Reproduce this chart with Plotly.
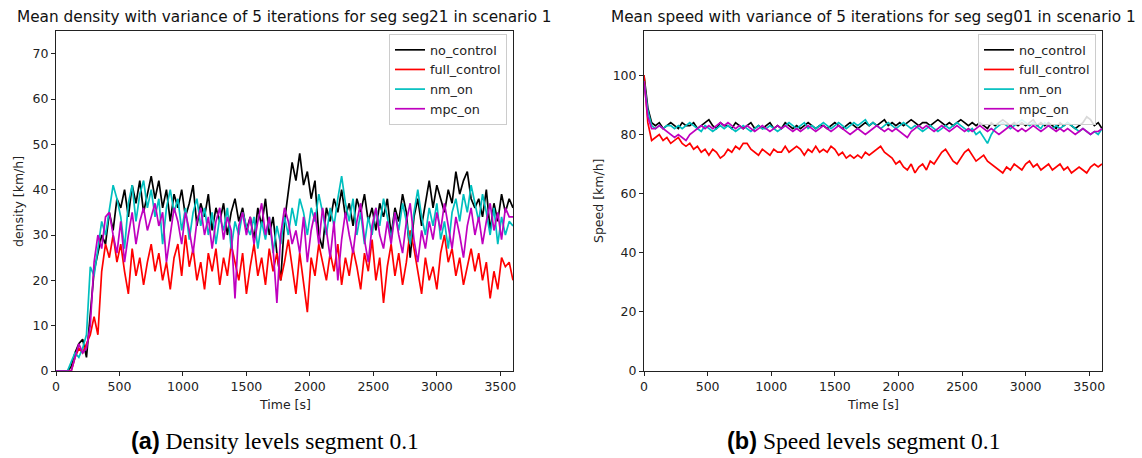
import numpy as np
import plotly.graph_objects as go

# ---------------- data ----------------
time_s = list(range(0, 3601, 30))

density_no_control = [
    0, 0, 0, 0, 1, 4, 6, 7, 3, 12,
    22, 26, 30, 28, 35, 31, 38, 36, 40, 34,
    41, 37, 42, 35, 39, 43, 38, 42, 36, 40,
    33, 39, 36, 40, 34, 37, 41, 32, 37, 34,
    39, 31, 36, 33, 37, 30, 35, 38, 33, 36,
    31, 34, 29, 36, 32, 38, 30, 34, 26, 20,
    33, 39, 46, 42, 48, 41, 44, 38, 42, 30,
    27, 36, 33, 38, 35, 40, 34, 37, 32, 38,
    35, 39, 33, 36, 31, 37, 34, 38, 30, 36,
    33, 39, 35, 25, 34, 38, 32, 37, 42, 36,
    41, 38, 35, 40, 37, 44, 39, 42, 44, 38,
    36, 38, 34, 40, 31, 37, 33, 39, 35, 38,
    36]
density_full_control = [
    0, 0, 0, 0, 0, 3, 5, 4, 6, 8,
    12, 8, 22, 28, 25, 30, 24, 28, 22, 17,
    27, 21, 25, 19, 24, 28, 22, 26, 20, 24,
    18, 25, 28, 21, 30, 23, 27, 20, 24, 18,
    26, 22, 27, 19, 25, 21, 28, 24, 20, 26,
    17, 23, 28, 21, 25, 19, 27, 22, 26, 20,
    24, 29, 23, 17, 26, 20, 13, 25, 21, 28,
    24, 20, 26, 22, 28, 19, 25, 21, 27, 23,
    18, 26, 22, 29, 20, 25, 15, 23, 28, 21,
    26, 19, 24, 31, 27, 22, 17, 25, 20, 23,
    18, 26, 30, 24, 27, 21, 25, 19, 23, 27,
    22, 26, 20, 24, 16, 22, 18, 25, 23, 24,
    20]
density_nm_on = [
    0, 0, 0, 0, 2, 4, 3, 5, 8, 23,
    21, 27, 33, 30, 36, 41, 38, 34, 27, 37,
    41, 33, 39, 42, 36, 40, 34, 38, 28, 36,
    40, 35, 38, 31, 36, 29, 35, 38, 32, 36,
    30, 35, 28, 34, 31, 36, 27, 33, 30, 35,
    32, 30, 34, 27, 33, 29, 34, 26, 32, 28,
    34, 30, 36, 32, 38, 35, 30, 36, 33, 39,
    35, 30, 36, 32, 38, 43, 37, 33, 38, 30,
    35, 28, 34, 30, 36, 32, 38, 34, 29, 35,
    31, 37, 33, 28, 35, 40, 34, 30, 36, 32,
    37, 29, 33, 27, 35, 38, 33, 39, 35, 41,
    37, 33, 39, 35, 30, 36, 28, 34, 30, 33,
    32]
density_mpc_on = [
    0, 0, 0, 0, 0, 3, 6, 4, 5, 10,
    24, 30, 27, 34, 35, 30, 26, 33, 24, 30,
    35, 28, 33, 36, 31, 34, 37, 32, 35, 24,
    30, 36, 33, 28, 35, 31, 26, 33, 36, 30,
    34, 27, 33, 36, 29, 34, 31, 16, 32, 35,
    30, 34, 28, 33, 37, 30, 34, 27, 15, 30,
    36, 33, 28, 31, 26, 34, 24, 31, 35, 28,
    36, 31, 25, 33, 20, 29, 35, 30, 26, 33,
    37, 29, 24, 32, 36, 30, 27, 33, 28, 35,
    30, 26, 33, 37, 29, 24, 31, 27, 33, 29,
    35, 31, 37, 32, 27, 34, 30, 25, 32, 36,
    30, 34, 28, 33, 37, 31, 35, 29, 36, 34,
    34]

speed_no_control = [
    100, 89, 84, 83, 84, 82, 83, 84, 83, 82,
    84, 83, 83, 84, 82, 83, 84, 85, 83, 82,
    84, 83, 83, 82, 84, 83, 82, 83, 84, 82,
    83, 82, 83, 84, 82, 83, 82, 84, 83, 82,
    83, 82, 83, 84, 83, 82, 83, 83, 82, 83,
    84, 83, 82, 83, 84, 83, 82, 83, 84, 83,
    84, 83, 84, 85, 83, 84, 83, 84, 83, 84,
    85, 84, 83, 84, 84, 83, 84, 85, 84, 83,
    84, 83, 84, 85, 84, 83, 84, 83, 84, 83,
    82, 84, 83, 84, 85, 84, 83, 84, 83, 84,
    83, 84, 85, 83, 84, 83, 84, 83, 82, 84,
    83, 84, 83, 82, 83, 84, 86, 85, 83, 84,
    82]
speed_full_control = [
    100, 84, 78, 79, 80, 78, 79, 77, 78, 79,
    77, 76, 77, 75, 76, 74, 75, 73, 75, 74,
    72, 73, 75, 74, 76, 75, 77, 77, 75, 74,
    73, 75, 74, 73, 75, 74, 74, 76, 74, 75,
    76, 75, 73, 75, 74, 76, 74, 75, 74, 76,
    75, 73, 74, 72, 73, 72, 73, 72, 74, 73,
    74, 75, 76, 74, 73, 72, 70, 71, 69, 68,
    70, 67, 69, 70, 68, 71, 70, 72, 74, 75,
    73, 71, 70, 72, 74, 75, 73, 71, 72, 73,
    71, 70, 69, 68, 67, 69, 68, 70, 69, 68,
    70, 71, 69, 70, 68, 69, 70, 68, 69, 70,
    68, 69, 67, 68, 69, 68, 67, 69, 70, 69,
    70]
speed_nm_on = [
    98, 88, 83, 82, 83, 82, 83, 83, 82, 83,
    82, 83, 84, 83, 82, 81, 83, 82, 81, 82,
    83, 82, 83, 82, 81, 82, 83, 82, 81, 82,
    83, 82, 82, 83, 82, 81, 82, 83, 84, 83,
    82, 83, 84, 82, 83, 82, 83, 84, 83, 82,
    83, 84, 83, 82, 83, 84, 83, 84, 85, 83,
    84, 83, 82, 83, 84, 83, 82, 83, 84, 83,
    82, 83, 82, 81, 82, 83, 82, 81, 82, 83,
    82, 83, 84, 83, 82, 81, 82, 80, 81, 79,
    77, 80, 82, 83, 84, 83, 82, 83, 84, 85,
    84, 83, 84, 83, 82, 84, 83, 82, 83, 82,
    83, 84, 83, 82, 81, 82, 81, 80, 81, 80,
    82]
speed_mpc_on = [
    98, 86, 82, 82, 83, 82, 81, 80, 79, 80,
    79, 78, 80, 81, 82, 83, 82, 83, 82, 83,
    84, 83, 84, 83, 82, 83, 82, 83, 82, 81,
    82, 83, 82, 81, 82, 83, 82, 83, 82, 81,
    82, 81, 82, 83, 82, 81, 82, 83, 82, 81,
    82, 83, 82, 81, 80, 81, 82, 81, 80, 81,
    82, 83, 82, 81, 82, 81, 82, 81, 80, 79,
    81, 82, 83, 82, 83, 82, 81, 82, 83, 82,
    81, 82, 83, 82, 81, 82, 81, 82, 83, 82,
    81, 82, 81, 80, 81, 82, 83, 82, 81, 82,
    81, 82, 83, 82, 81, 82, 83, 82, 81, 82,
    81, 82, 81, 80, 81, 82, 81, 80, 81, 81,
    82]

series_names = ["no_control", "full_control", "nm_on", "mpc_on"]
series_colors = ["#000000", "#ff0000", "#00bfbf", "#bf00bf"]
density_series = [density_no_control, density_full_control, density_nm_on, density_mpc_on]
speed_series = [speed_no_control, speed_full_control, speed_nm_on, speed_mpc_on]

x_ticks = [0, 500, 1000, 1500, 2000, 2500, 3000, 3500]
density_ticks = [0, 10, 20, 30, 40, 50, 60, 70]
speed_ticks = [0, 20, 40, 60, 80, 100]

for s in density_series + speed_series:
    assert len(s) == len(time_s), len(s)

# ---------------- figure ----------------
W, H = 1142, 458
L, R, T, B = 56, 40, 31, 87
plot_w = W - L - R
plot_h = H - T - B
dom1 = [0, (513 - L) / plot_w]
dom2 = [(644 - L) / plot_w, 1]

fig = go.Figure()
for name, col, d in zip(series_names, series_colors, density_series):
    fig.add_trace(go.Scatter(x=time_s, y=d, mode="lines", name=name,
                             line=dict(color=col, width=1.7),
                             xaxis="x", yaxis="y", legend="legend"))
for name, col, s in zip(series_names, series_colors, speed_series):
    fig.add_trace(go.Scatter(x=time_s, y=s, mode="lines", name=name,
                             line=dict(color=col, width=1.7),
                             xaxis="x2", yaxis="y2", legend="legend2"))

FONT = "DejaVu Sans"
TICK = 12.5
axis_common = dict(showline=True, mirror=True, linecolor="#222", linewidth=1,
                   ticks="outside", ticklen=4, tickcolor="#222", tickwidth=1,
                   showgrid=False, zeroline=False,
                   tickfont=dict(family=FONT, size=TICK, color="#222"))

leg_common = dict(xanchor="right", yanchor="top",
                  bgcolor="rgba(255,255,255,0.85)", bordercolor="#cccccc", borderwidth=1,
                  font=dict(family=FONT, size=12.8, color="#222"), tracegroupgap=0)

fig.update_layout(
    width=W, height=H,
    margin=dict(l=L, r=R, t=T, b=B),
    paper_bgcolor="white", plot_bgcolor="white",
    font=dict(family=FONT, size=12, color="#222"),
    xaxis=dict(domain=dom1, range=[0, 3600], tickvals=x_ticks, anchor="y", **axis_common),
    yaxis=dict(range=[0, 75], tickvals=density_ticks, anchor="x", **axis_common),
    xaxis2=dict(domain=dom2, range=[0, 3600], tickvals=x_ticks, anchor="y2", **axis_common),
    yaxis2=dict(range=[0, 115], tickvals=speed_ticks, anchor="x2", **axis_common),
    legend=dict(x=(507 - L) / plot_w, y=(H - B - 34) / plot_h, **leg_common),
    legend2=dict(x=(1096 - L) / plot_w, y=(H - B - 34) / plot_h, **leg_common),
    showlegend=True,
)

def px_y(py):
    return (H - B - py) / plot_h

def px_x(px):
    return (px - L) / plot_w

ann = []
c1 = (dom1[0] + dom1[1]) / 2
c2 = (dom2[0] + dom2[1]) / 2
TITLE = 15.3
ann.append(dict(text="Mean density with variance of 5 iterations for seg seg21 in scenario 1",
                x=c1, y=px_y(17), xref="paper", yref="paper", showarrow=False,
                xanchor="center", yanchor="middle", font=dict(family=FONT, size=TITLE, color="#111")))
ann.append(dict(text="Mean speed with variance of 5 iterations for seg seg01 in scenario 1",
                x=c2, y=px_y(17), xref="paper", yref="paper", showarrow=False,
                xanchor="center", yanchor="middle", font=dict(family=FONT, size=TITLE, color="#111")))
for c in (c1, c2):
    ann.append(dict(text="Time [s]", x=c, y=px_y(404), xref="paper", yref="paper",
                    showarrow=False, xanchor="center", yanchor="middle",
                    font=dict(family=FONT, size=TICK, color="#222")))
ann.append(dict(text="density [km/h]", x=px_x(18), y=0.5, xref="paper", yref="paper",
                showarrow=False, textangle=-90, xanchor="center", yanchor="middle",
                font=dict(family=FONT, size=TICK, color="#222")))
ann.append(dict(text="Speed [km/h]", x=px_x(598), y=0.5, xref="paper", yref="paper",
                showarrow=False, textangle=-90, xanchor="center", yanchor="middle",
                font=dict(family=FONT, size=TICK, color="#222")))
CAP = 23.5
ann.append(dict(text="<span style='font-family:Liberation Sans;font-weight:bold'>(a)</span> Density levels segment 0.1",
                x=px_x(275), y=px_y(441), xref="paper", yref="paper", showarrow=False,
                xanchor="center", yanchor="middle",
                font=dict(family="Liberation Serif", size=CAP, color="#000")))
ann.append(dict(text="<span style='font-family:Liberation Sans;font-weight:bold'>(b)</span> Speed levels segment 0.1",
                x=px_x(863), y=px_y(441), xref="paper", yref="paper", showarrow=False,
                xanchor="center", yanchor="middle",
                font=dict(family="Liberation Serif", size=CAP, color="#000")))
fig.update_layout(annotations=ann)

fig.write_html("out.html")
